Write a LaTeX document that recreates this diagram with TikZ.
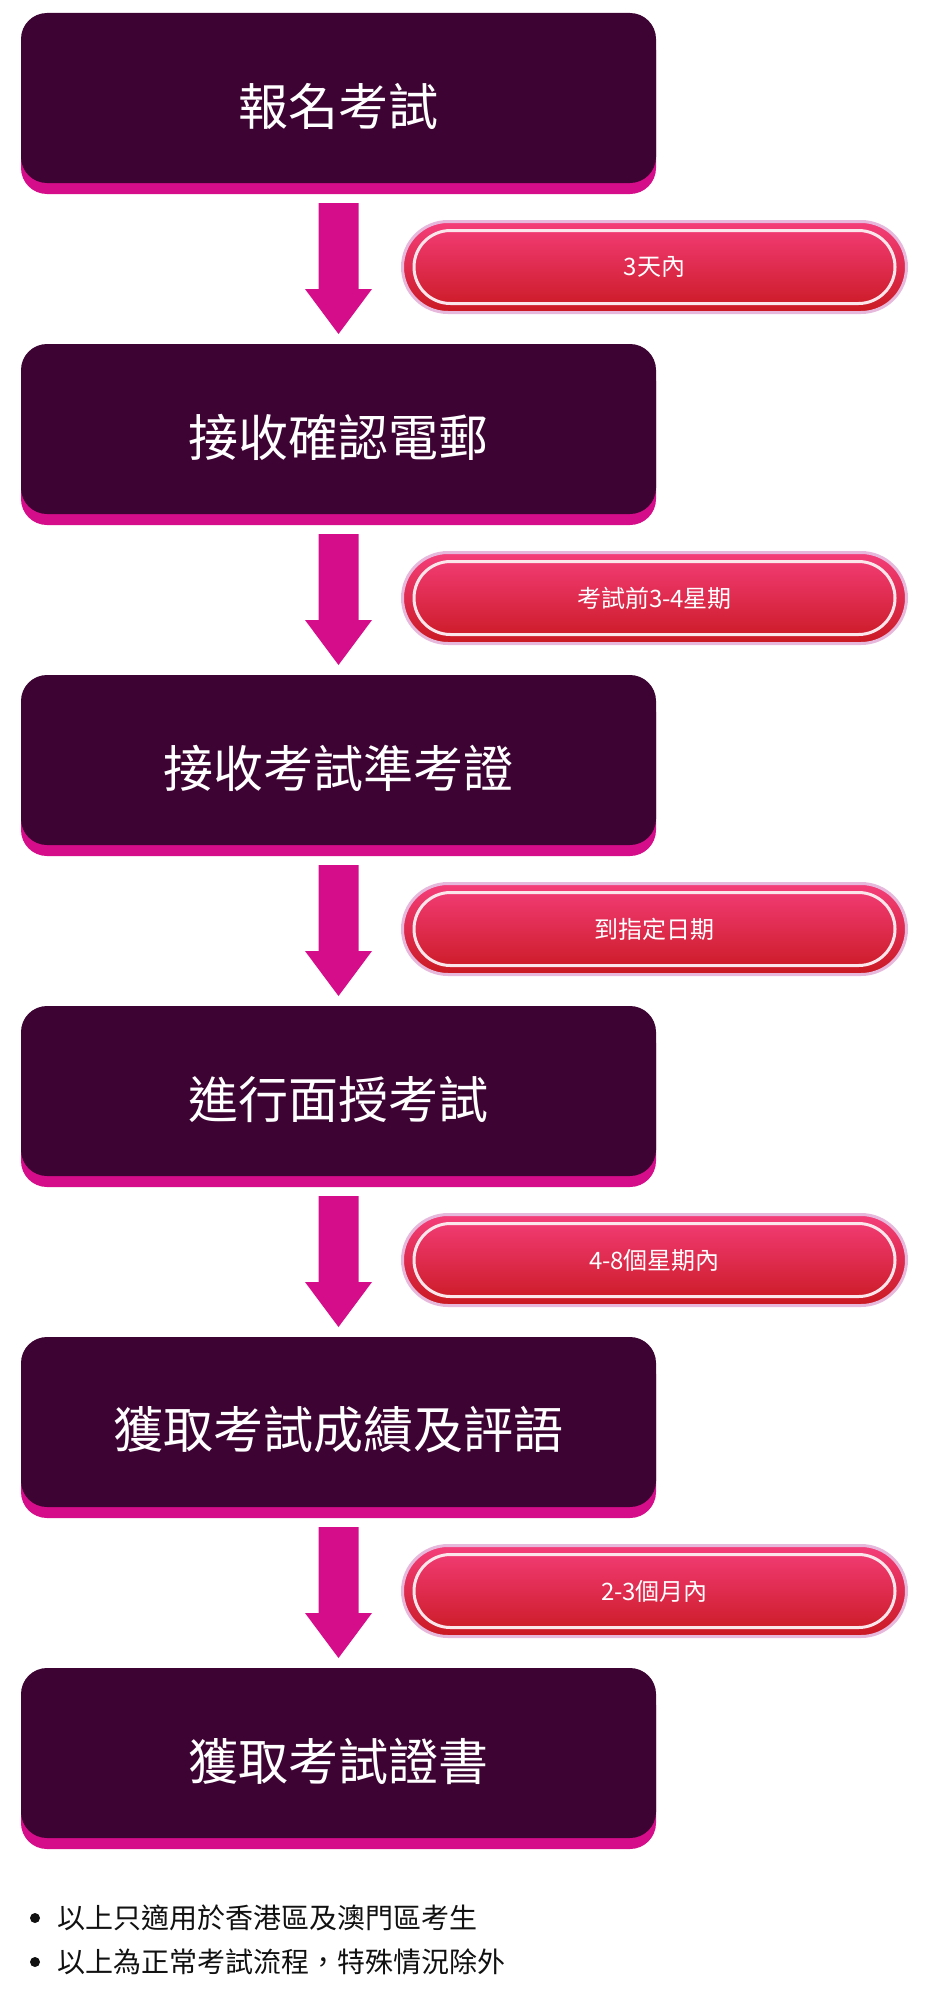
\documentclass[tikz,border=0pt]{standalone}
\usepackage{fontspec}
\setmainfont{Noto Sans CJK TC}
\usetikzlibrary{calc}
\definecolor{darkc}{HTML}{3D0433}
\definecolor{pinkc}{HTML}{D60D8A}
\definecolor{glowc}{HTML}{E6B8DC}
\definecolor{pilltop}{HTML}{F43E7A}
\definecolor{pillmid}{HTML}{EB3565}
\definecolor{pillbot}{HTML}{CA1922}
\definecolor{linec}{HTML}{FBE6EC}
\definecolor{textc}{HTML}{111111}
\tikzset{
  stepbox/.style={rectangle, rounded corners=26pt, minimum width=635pt, minimum height=170pt,
    inner sep=0pt, outer sep=0pt, fill=darkc,
    preaction={fill=pinkc, transform canvas={yshift=-11pt}}},
  boxtext/.style={text=white, font=\fontsize{50}{56}\selectfont, inner sep=0pt},
  pill/.style={rectangle, rounded corners=45.5pt, minimum width=504pt, minimum height=91pt,
    inner sep=0pt, outer sep=0pt, top color=pilltop, middle color=pillmid, bottom color=pillbot,
    draw=glowc, line width=3pt, text=white, font=\fontsize{24}{28}\selectfont},
  pillline/.style={rectangle, rounded corners=36.5pt, minimum width=481pt, minimum height=73pt,
    inner sep=0pt, outer sep=0pt, draw=linec, line width=3pt},
  blockarrow/.style={fill=pinkc},
  bulletdot/.style={circle, fill=textc, minimum size=10pt, inner sep=0pt},
  bullettext/.style={anchor=west, text=textc, font=\fontsize{28}{32}\selectfont, inner sep=0pt},
}
\begin{document}
\begin{tikzpicture}[x=1pt,y=-1pt]
\useasboundingbox (0,0) rectangle (934,2002);
% boxes
\node[stepbox] (b1) at (338.5, 98) {};
\node[stepbox] (b2) at (338.5, 429) {};
\node[stepbox] (b3) at (338.5, 760) {};
\node[stepbox] (b4) at (338.5, 1091) {};
\node[stepbox] (b5) at (338.5, 1422) {};
\node[stepbox] (b6) at (338.5, 1753) {};
\node[boxtext] (t1) at ($(b1.center)+(0,8)$) {報名考試};
\node[boxtext] (t2) at ($(b2.center)+(0,8)$) {接收確認電郵};
\node[boxtext] (t3) at ($(b3.center)+(0,8)$) {接收考試準考證};
\node[boxtext] (t4) at ($(b4.center)+(0,8)$) {進行面授考試};
\node[boxtext] (t5) at ($(b5.center)+(0,8)$) {獲取考試成績及評語};
\node[boxtext] (t6) at ($(b6.center)+(0,8)$) {獲取考試證書};
% arrows
\foreach \a/\b in {b1/b2,b2/b3,b3/b4,b4/b5,b5/b6}{
  \fill[blockarrow] ($(\a.south)+(-20,20)$) -- ($(\a.south)+(20,20)$) -- ($(\b.north)+(20,-55)$)
    -- ($(\b.north)+(33.5,-55)$) -- ($(\b.north)+(0,-10)$) -- ($(\b.north)+(-33.5,-55)$)
    -- ($(\b.north)+(-20,-55)$) -- cycle;
}
% pills
\node[pill] (p1) at (654.5, 267) {3天內};
\node[pill] (p2) at (654.5, 598) {考試前3-4星期};
\node[pill] (p3) at (654.5, 929) {到指定日期};
\node[pill] (p4) at (654.5, 1260) {4-8個星期內};
\node[pill] (p5) at (654.5, 1591) {2-3個月內};
\foreach \p in {p1,p2,p3,p4,p5}{ \node[pillline] (\p l) at (\p) {}; }
% notes
\node[bulletdot] (d1) at (35, 1918) {};
\node[bulletdot] (d2) at (35, 1962) {};
\node[bullettext] (n1) at (57, 1918) {以上只適用於香港區及澳門區考生};
\node[bullettext] (n2) at (57, 1962) {以上為正常考試流程，特殊情況除外};
\end{tikzpicture}
\end{document}
